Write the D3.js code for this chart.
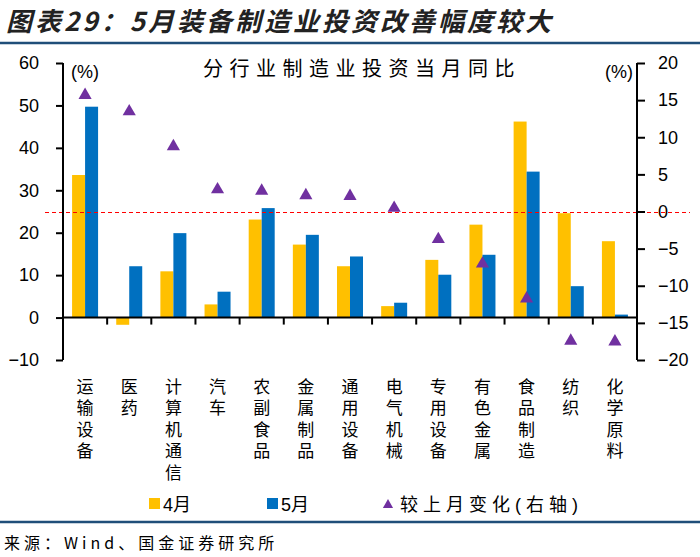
<!DOCTYPE html>
<html><head><meta charset="utf-8">
<script src="https://cdn.jsdelivr.net/npm/d3@7"></script>
<style>body{margin:0;background:#fff}svg{display:block}</style>
</head><body>
<svg id="c" width="700" height="557"></svg>
<script>
const categories = ["运输设备","医药","计算机通信","汽车","农副食品","金属制品","通用设备","电气机械","专用设备","有色金属","食品制造","纺织","化学原料"];
const aprValues = [33.6,-1.7,10.9,3.1,23.1,17.2,12.1,2.7,13.6,21.9,46.2,24.6,18.0];
const mayValues = [49.7,12.1,19.9,6.1,25.8,19.5,14.4,3.5,10.1,14.8,34.4,7.4,0.7];
const changeValues = [15.8,13.6,8.9,3.1,2.9,2.3,2.2,0.6,-3.6,-6.9,-11.6,-17.3,-17.4];
const leftTicks = [-10,0,10,20,30,40,50,60];
const rightTicks = [-20,-15,-10,-5,0,5,10,15,20];
const seriesNames = ["4月","5月","较上月变化(右轴)"];
const titleText = "图表29：5月装备制造业投资改善幅度较大";
const chartTitle = "分行业制造业投资当月同比";
const sourceText = "来源：Wind、国金证券研究所";

const svg = d3.select("#c");
const FONT = "'Liberation Sans','Noto Sans CJK SC',sans-serif";
const CJK = "'Noto Sans CJK SC',sans-serif";
const yellow = "#FFC000", blue = "#0070C0", purple = "#7030A0", lineBlue = "#1F4E79";

const x0 = 63, x1 = 637, yTop = 63, yBot = 360;
const x = d3.scaleBand().domain(categories).range([x0, x1]).padding(0);
const yL = d3.scaleLinear().domain([-10, 60]).range([yBot, yTop]);
const yR = d3.scaleLinear().domain([-20, 20]).range([yBot, yTop]);

// header
svg.append("text").attr("x", 6).attr("y", 31).text(titleText)
  .attr("font-family", CJK).attr("font-size", 26).attr("font-weight", "bold")
  .attr("font-style", "italic").attr("fill", "#222").attr("letter-spacing", 3);
svg.append("line").attr("x1", 0).attr("x2", 700).attr("y1", 43).attr("y2", 43)
  .attr("stroke", lineBlue).attr("stroke-width", 2.5);

// bars
const bw = 13;
svg.append("g").selectAll("rect").data(aprValues).join("rect")
  .attr("x", (d, i) => x(categories[i]) + x.bandwidth() / 2 - bw)
  .attr("width", bw)
  .attr("y", d => Math.min(yL(d), yL(0)))
  .attr("height", d => Math.abs(yL(d) - yL(0)))
  .attr("fill", yellow);
svg.append("g").selectAll("rect").data(mayValues).join("rect")
  .attr("x", (d, i) => x(categories[i]) + x.bandwidth() / 2)
  .attr("width", bw)
  .attr("y", d => Math.min(yL(d), yL(0)))
  .attr("height", d => Math.abs(yL(d) - yL(0)))
  .attr("fill", blue);

// red dashed zero line (right axis)
const zy = Math.round(yR(0)) + 0.5;
svg.append("line").attr("x1", 45).attr("x2", 690).attr("y1", zy).attr("y2", zy)
  .attr("stroke", "#FF0000").attr("stroke-width", 1.2).attr("stroke-dasharray", "4,3");

// triangles
const tri = d3.symbol().type(d3.symbolTriangle).size(75);
svg.append("g").selectAll("path").data(changeValues).join("path")
  .attr("d", tri)
  .attr("transform", (d, i) => `translate(${x(categories[i]) + x.bandwidth() / 2},${yR(d) + 1})`)
  .attr("fill", purple);

// axes
const axL = svg.append("g").attr("transform", `translate(${x0},0)`)
  .call(d3.axisLeft(yL).tickValues(leftTicks).tickSize(7).tickPadding(17).tickFormat(d3.format("d")));
const axR = svg.append("g").attr("transform", `translate(${x1},0)`)
  .call(d3.axisRight(yR).tickValues(rightTicks).tickSize(8).tickPadding(13).tickFormat(d3.format("d")));
[axL, axR].forEach(a => {
  a.select(".domain").attr("stroke", "#000").attr("stroke-width", 2).attr("d", `M0,${yTop}V${yBot}`);
  a.selectAll(".tick line").attr("stroke", "#000").attr("stroke-width", 2);
  a.selectAll(".tick text").attr("font-family", FONT).attr("font-size", 18).attr("fill", "#000");
});

// category axis at y=0 with ticks between categories
const xAxisG = svg.append("g");
xAxisG.append("line").attr("x1", x0).attr("x2", x1).attr("y1", yL(0)).attr("y2", yL(0))
  .attr("stroke", "#000").attr("stroke-width", 2);
xAxisG.selectAll("line.t").data(categories.slice(1)).join("line").attr("class", "t")
  .attr("x1", d => x(d)).attr("x2", d => x(d))
  .attr("y1", yL(0)).attr("y2", yL(0) + 7)
  .attr("stroke", "#000").attr("stroke-width", 2);

// vertical category labels (one text per label, vertical writing mode)
svg.append("g").selectAll("text").data(categories).join("text")
  .attr("x", d => x(d) + x.bandwidth() / 2)
  .attr("y", 378)
  .text(d => d)
  .style("writing-mode", "vertical-rl")
  .style("text-orientation", "upright")
  .attr("letter-spacing", 4.5)
  .attr("font-family", CJK).attr("font-size", 17).attr("fill", "#000");

// chart title and units
svg.append("text").attr("x", 362).attr("y", 76).text(chartTitle)
  .attr("text-anchor", "middle").attr("font-family", CJK).attr("font-size", 20)
  .attr("letter-spacing", 6.5).attr("fill", "#000");
svg.append("text").attr("x", 71).attr("y", 78).text("(%)")
  .attr("font-family", FONT).attr("font-size", 18).attr("fill", "#000");
svg.append("text").attr("x", 633).attr("y", 78).text("(%)").attr("text-anchor", "end")
  .attr("font-family", FONT).attr("font-size", 18).attr("fill", "#000");

// legend
const ly = 504;
svg.append("rect").attr("x", 149).attr("y", ly - 6).attr("width", 11).attr("height", 11).attr("fill", yellow);
svg.append("text").attr("x", 163).attr("y", ly + 7).text(seriesNames[0])
  .attr("font-family", FONT).attr("font-size", 18).attr("fill", "#000");
svg.append("rect").attr("x", 267).attr("y", ly - 6).attr("width", 11).attr("height", 11).attr("fill", blue);
svg.append("text").attr("x", 281).attr("y", ly + 7).text(seriesNames[1])
  .attr("font-family", FONT).attr("font-size", 18).attr("fill", "#000");
svg.append("path").attr("d", d3.symbol().type(d3.symbolTriangle).size(45))
  .attr("transform", `translate(388,${ly + 1})`).attr("fill", purple);
svg.append("text").attr("x", 400).attr("y", ly + 7).text(seriesNames[2])
  .attr("font-family", FONT).attr("font-size", 18).attr("letter-spacing", 5).attr("fill", "#000");

// footer
svg.append("line").attr("x1", 0).attr("x2", 700).attr("y1", 522).attr("y2", 522)
  .attr("stroke", lineBlue).attr("stroke-width", 2.5);
svg.append("text").attr("x", 4).attr("y", 549).text(sourceText)
  .attr("font-family", CJK).attr("font-size", 16).attr("letter-spacing", 4).attr("fill", "#000");
</script>
</body></html>
